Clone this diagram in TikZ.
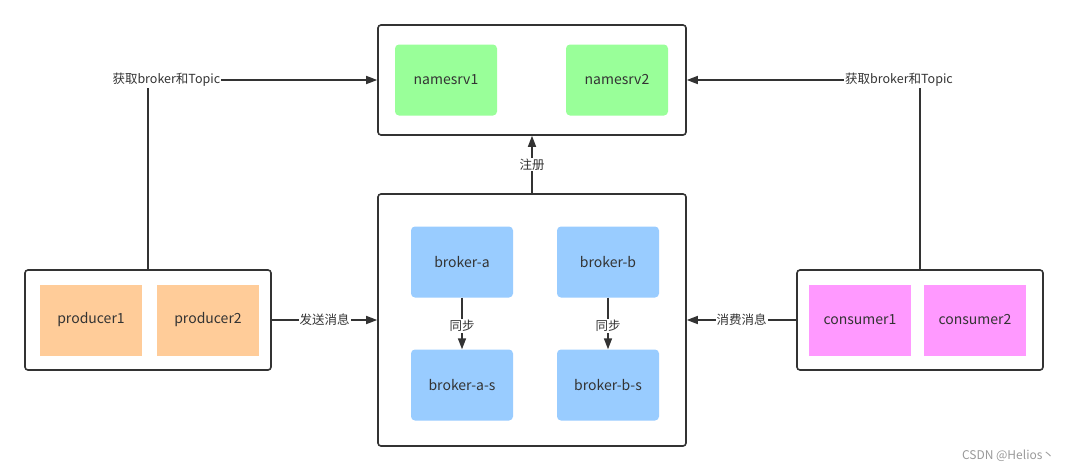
\documentclass[tikz,border=0pt]{standalone}
\usepackage{fontspec}
\setmainfont{Noto Sans CJK SC}
\usetikzlibrary{arrows.meta}
\definecolor{gr}{HTML}{99FF99}
\definecolor{bl}{HTML}{99CCFF}
\definecolor{og}{HTML}{FFCC99}
\definecolor{pk}{HTML}{FF99FF}
\definecolor{ln}{HTML}{333333}
\begin{document}
\begin{tikzpicture}[x=1pt,y=-1pt,
  outer/.style={draw=ln,line width=1.6pt,rounded corners=3pt,fill=white},
  inner/.style={draw=none,rounded corners=4pt,minimum width=102pt,minimum height=71pt,font=\fontsize{14}{16}\selectfont,text=black!80},
  conn/.style={draw=ln,line width=1.6pt,-{Triangle[length=11pt,width=8pt]}},
  lbl/.style={fill=white,inner sep=1pt,font=\fontsize{12.5}{14}\selectfont,text=black!80}]
\useasboundingbox (0,0) rectangle (1068,472);
% outer boxes
\node[outer,minimum width=308pt,minimum height=110pt,inner sep=0pt] (ns) at (532,80) {};
\node[outer,minimum width=308pt,minimum height=252pt,inner sep=0pt] (br) at (532,320) {};
\node[outer,minimum width=246pt,minimum height=100pt,inner sep=0pt] (pr) at (148,320) {};
\node[outer,minimum width=246pt,minimum height=100pt,inner sep=0pt] (co) at (920,320) {};
% inner nodes
\node[inner,fill=gr] (n1) at (446,80) {namesrv1};
\node[inner,fill=gr] (n2) at (617,80) {namesrv2};
\node[inner,fill=bl] (ba) at (462,262) {broker-a};
\node[inner,fill=bl] (bb) at (608,262) {broker-b};
\node[inner,fill=bl] (bas) at (462,385) {broker-a-s};
\node[inner,fill=bl] (bbs) at (608,385) {broker-b-s};
\node[inner,fill=og,rounded corners=0pt] (p1) at (91,320) {producer1};
\node[inner,fill=og,rounded corners=0pt] (p2) at (208,320) {producer2};
\node[inner,fill=pk,rounded corners=0pt] (c1) at (860,320) {consumer1};
\node[inner,fill=pk,rounded corners=0pt] (c2) at (975,320) {consumer2};
% connectors
\draw[conn] (pr.north) |- node[lbl,pos=0.54] {获取broker和Topic} (ns.west);
\draw[conn] (co.north) |- node[lbl,pos=0.545] {获取broker和Topic} (ns.east);
\draw[conn] (br.north) -- node[lbl] {注册} (ns.south);
\draw[conn] (pr.east) -- node[lbl] {发送消息} (br.west);
\draw[conn] (co.west) -- node[lbl] {消费消息} (br.east);
\draw[conn] (ba.south) -- node[lbl,pos=0.55] {同步} (bas.north);
\draw[conn] (bb.south) -- node[lbl,pos=0.55] {同步} (bbs.north);
\node[font=\fontsize{12}{14}\selectfont,text=black!40,anchor=east] (wm) at (1058,456) {CSDN @Helios丶};
\end{tikzpicture}
\end{document}
